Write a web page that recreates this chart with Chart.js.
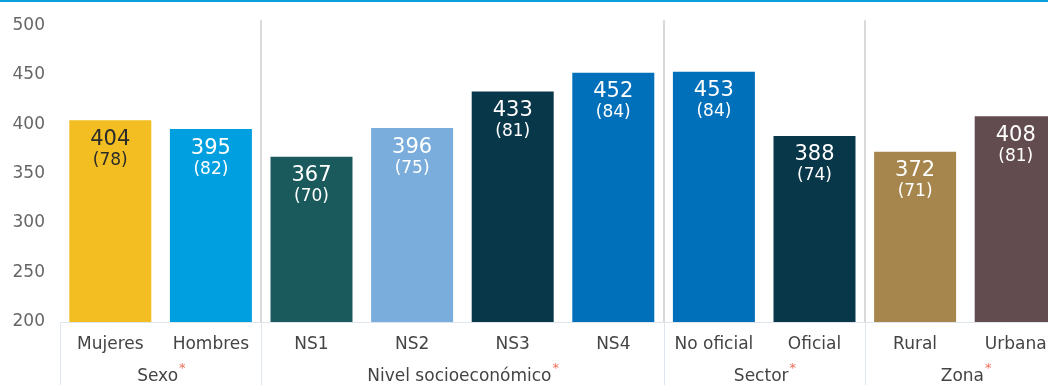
<!DOCTYPE html>
<html>
<head>
<meta charset="utf-8">
<script src="https://cdn.jsdelivr.net/npm/chart.js@4"></script>
<style>
  html, body { margin: 0; padding: 0; background: #fff; overflow: hidden; }
  #topline { position: absolute; left: 0; top: 0; width: 1048px; height: 2px; background: #0aa0dc; }
  #wrap { position: absolute; left: 0; top: 0; width: 1066px; height: 385px; }
</style>
</head>
<body>
<div id="wrap"><canvas id="chart" width="1066" height="385"></canvas></div>
<div id="topline"></div>
<script>
// Data
const categories = ['Mujeres', 'Hombres', 'NS1', 'NS2', 'NS3', 'NS4', 'No oficial', 'Oficial', 'Rural', 'Urbana'];
const means = [404, 395, 367, 396, 433, 452, 453, 388, 372, 408];
const deviations = [78, 82, 70, 75, 81, 84, 84, 74, 71, 81];
const groupNames = ['Sexo', 'Nivel socioeconómico', 'Sector', 'Zona'];
const groupSizes = [2, 4, 2, 2];
const yTicks = [200, 250, 300, 350, 400, 450, 500];

const barColors = ['#f2be22', '#009fdf', '#1b5a5c', '#7aaddb', '#08374a', '#0070bb',
                   '#0070bb', '#08374a', '#a6864d', '#634c4f'];
const labelColors = ['#2b2b2b', '#fff', '#fff', '#fff', '#fff', '#fff', '#fff', '#fff', '#fff', '#fff'];

const FONT = '"DejaVu Sans", sans-serif';

// value + (sd) inside the top of each bar
const barLabels = {
    id: 'barLabels',
    afterDatasetsDraw(chart) {
        const ctx = chart.ctx;
        const meta = chart.getDatasetMeta(0);
        ctx.save();
        ctx.textAlign = 'center';
        ctx.textBaseline = 'middle';
        meta.data.forEach((bar, i) => {
            ctx.fillStyle = labelColors[i];
            ctx.font = '21px ' + FONT;
            ctx.fillText(String(means[i]), bar.x, bar.y + 19);
            ctx.font = '17px ' + FONT;
            ctx.fillText('(' + deviations[i] + ')', bar.x, bar.y + 40);
        });
        ctx.restore();
    }
};

// group separators, bottom table lines and group titles
const groupFrame = {
    id: 'groupFrame',
    beforeDatasetsDraw(chart) {
        const ctx = chart.ctx;
        const area = chart.chartArea;
        const x = chart.scales.x;
        const step = x.getPixelForValue(1) - x.getPixelForValue(0);
        ctx.save();

        // light lines of the label table under the axis
        ctx.strokeStyle = '#dfe5ec';
        ctx.lineWidth = 1;
        ctx.beginPath();
        ctx.moveTo(area.left, area.bottom + 0.5);
        ctx.lineTo(area.right, area.bottom + 0.5);
        let start = 0;
        const edges = [area.left];
        groupSizes.forEach(n => {
            start += n;
            edges.push(x.getPixelForValue(start) - step / 2);
        });
        edges.slice(0, -1).forEach(ex => {
            ctx.moveTo(Math.round(ex) + 0.5, area.bottom);
            ctx.lineTo(Math.round(ex) + 0.5, chart.height);
        });
        ctx.stroke();

        // grey separators between groups inside the plot
        ctx.strokeStyle = '#d9d9d9';
        ctx.lineWidth = 2;
        ctx.beginPath();
        edges.slice(1, -1).forEach(ex => {
            ctx.moveTo(Math.round(ex), area.top - 5);
            ctx.lineTo(Math.round(ex), area.bottom);
        });
        ctx.stroke();

        // group titles with red asterisk
        ctx.textBaseline = 'middle';
        groupNames.forEach((name, g) => {
            const cx = (edges[g] + edges[g + 1]) / 2;
            ctx.font = '17px ' + FONT;
            const w = ctx.measureText(name).width;
            ctx.fillStyle = '#444';
            ctx.textAlign = 'left';
            ctx.fillText(name, cx - w / 2 - 3, 377);
            ctx.fillStyle = '#f0705a';
            ctx.font = '13px ' + FONT;
            ctx.fillText('*', cx + w / 2 - 2, 369);
        });
        ctx.restore();
    }
};

new Chart(document.getElementById('chart'), {
    type: 'bar',
    data: {
        labels: categories,
        datasets: [{
            data: means,
            backgroundColor: barColors,
            borderWidth: 0,
            barPercentage: 0.815,
            categoryPercentage: 1
        }]
    },
    options: {
        responsive: false,
        animation: false,
        layout: { padding: { top: 22, right: 0, bottom: 0, left: 0 } },
        plugins: { legend: { display: false }, tooltip: { enabled: false } },
        scales: {
            x: {
                grid: { display: false, drawTicks: false },
                border: { display: false },
                ticks: { color: '#444', font: { family: FONT, size: 17 }, padding: 12, maxRotation: 0, autoSkip: false },
                afterFit(scale) { scale.height = 63; }
            },
            y: {
                min: 200,
                max: 500,
                grid: { display: false, drawTicks: false },
                border: { display: false },
                afterBuildTicks(scale) { scale.ticks = yTicks.map(v => ({ value: v })); },
                ticks: { color: '#666', font: { family: FONT, size: 17 }, padding: 15 },
                afterFit(scale) { scale.width = 60; }
            }
        }
    },
    plugins: [groupFrame, barLabels]
});
</script>
</body>
</html>
